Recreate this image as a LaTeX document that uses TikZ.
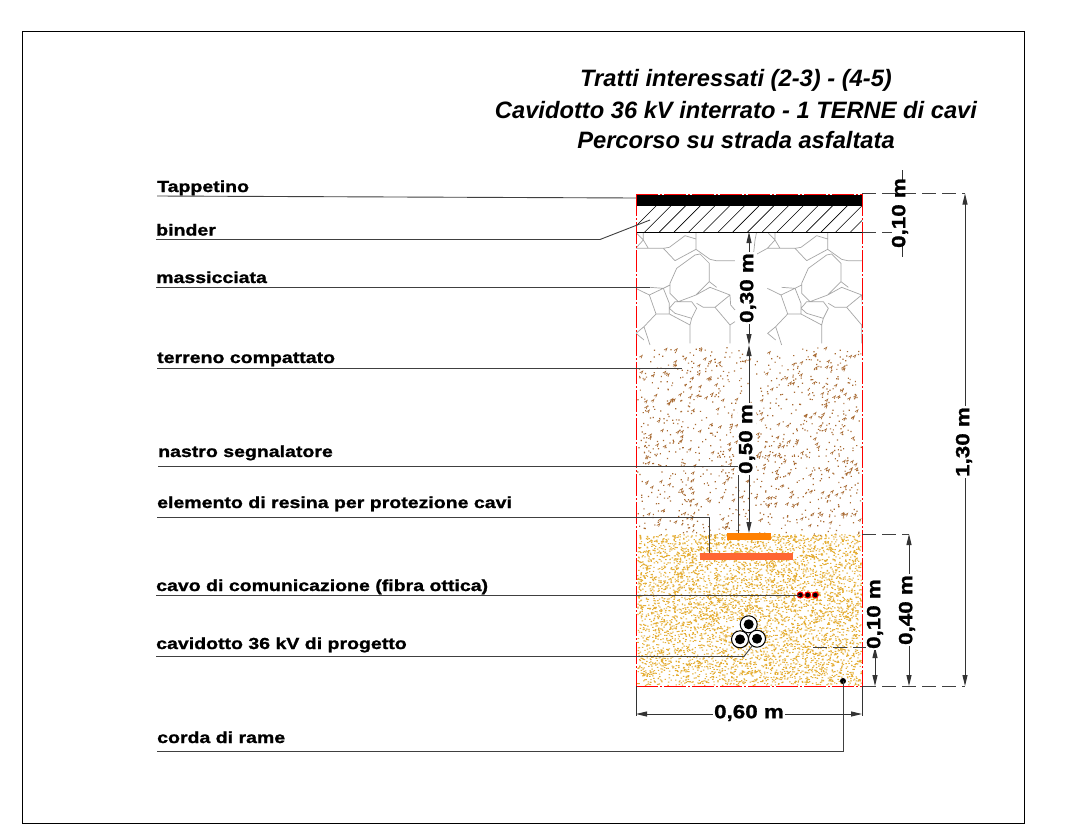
\documentclass[tikz,border=0pt]{standalone}
\usepackage{fontspec}
\setmainfont{Liberation Sans}
\newfontfamily\widelbl[FakeStretch=1.22,BoldFeatures={FakeStretch=1.22,FakeBold=1.2}]{Liberation Sans}
\newfontfamily\widedim[FakeStretch=1.18,BoldFeatures={FakeStretch=1.18,FakeBold=1.2}]{Liberation Sans}
\usetikzlibrary{arrows.meta,calc}
\definecolor{soilbrown}{HTML}{A86A32}
\definecolor{sandgold}{HTML}{E5AE35}
\definecolor{plateorange}{HTML}{FF8000}
\definecolor{platered}{HTML}{FF6633}
\newcommand{\stonepath}{
 (150,340)--(170,295)--(225,255)--(240,252)--(268,280)--(268,335)--(228,375)--(175,395)--(150,370)--cycle
 (47,235)--(130,235)--(165,272)
 (130,235)--(148,232)--(195,197)--(228,207)--(228,238)--(165,272)
 (228,185)--(228,207)
 (228,238)--(270,268)--(288,272)--(345,272)
 (268,335)--(290,352)
 (90,352)--(130,355)--(150,345)
 (130,355)--(88,375)--(108,432)--(148,432)--(148,400)--(130,355)
 (47,355)--(88,375)
 (108,432)--(72,470)--(48,490)--(72,510)
 (72,470)--(90,525)
 (108,432)--(148,432)--(210,465)--(210,520)
 (148,415)--(165,395)--(215,395)--(230,415)--(215,445)--(165,430)--cycle
 (228,375)--(270,352)--(330,375)
 (230,400)--(250,412)--(285,412)--(330,375)
 (285,412)--(330,465)--(345,455)
 (330,465)--(330,520)
 (215,445)--(210,465)
 (50,190)--(70,210)--(47,235)
 (70,185)--(70,210)--(85,235)
 (5,258)--(47,235)
 (15,185)--(10,210)--(5,258)
 (330,375)--(332,405)--(345,420)
}
\tikzset{
 lbl/.style={font=\widelbl\fontsize{16}{18}\selectfont\bfseries, inner sep=0pt, anchor=base west},
 lead/.style={line width=0.9pt, draw=black!75},
 dimtxt/.style={font=\widedim\fontsize{19}{21}\selectfont\bfseries, rotate=90, inner sep=1pt},
 dimw/.style={dimtxt, fill=white},
 dimline/.style={line width=0.9pt, draw=black!80},
 tips/.style={{Triangle[length=11pt,width=5pt]}-{Triangle[length=11pt,width=5pt]}},
 extd/.style={line width=0.8pt, draw=black!75, dash pattern=on 14pt off 6pt},
 redl/.style={line width=0.9pt, draw=red, dash pattern=on 22pt off 2pt on 2pt off 2pt},
 ttl/.style={font=\fontsize{23.7}{26}\selectfont\bfseries\itshape, inner sep=0pt},
 stoneline/.style={line width=0.7pt, draw=black!35},
 plate/.style={inner sep=0pt, minimum height=7pt},
 pipeo/.style={circle, draw=black, line width=1pt, fill=white, minimum size=17pt, inner sep=0pt},
 pipei/.style={circle, fill=black, minimum size=10pt, inner sep=0pt},
 fibre/.style={circle, draw=red, line width=1pt, fill=black, minimum size=6pt, inner sep=0pt},
}
\begin{document}
\begin{tikzpicture}[x=1pt,y=-1pt]
\useasboundingbox (0,0) rectangle (1073,825);
\fill[white] (0,0) rectangle (1073,825);
\draw[line width=0.8pt] (22,31) rectangle (1024,823);
% title
\node[ttl] (t1) at (736,80) {Tratti interessati (2-3) - (4-5)};
\node[ttl] (t2) at (736,110) {Cavidotto 36 kV interrato - 1 TERNE di cavi};
\node[ttl] (t3) at (736,140) {Percorso su strada asfaltata};
% stipple
\pgfmathsetseed{4217}
\fill[soilbrown] \foreach \i in {1,...,900} { ({637+224*rnd},{347+188*rnd}) rectangle ++(1.2,1.2) };
\draw[soilbrown, line width=0.6pt] \foreach \i in {1,...,220} { ({638+220*rnd},{349+182*rnd}) -- ++(3,-1.8) -- ++(-1.2,3) };
\fill[sandgold] \foreach \i in {1,...,5400} { ({637+224*rnd},{534+151*rnd}) rectangle ++(1.4,1) };
% stones
\begin{scope}
\clip (636,232) rectangle (862,346);
\begin{scope}[shift={(620,170)},x=0.3333pt,y=-0.3333pt]
\draw[stoneline] \stonepath;
\end{scope}
\begin{scope}[shift={(751.67,170)},x=0.3333pt,y=-0.3333pt]
\draw[stoneline] \stonepath;
\end{scope}
\end{scope}
% layers
\fill[black] (636,195) rectangle (862,205.5);
\begin{scope}
\clip (636,205.5) rectangle (862,232);
\draw[line width=0.6pt] \foreach \k in {0,...,17} { ({630+14.7*\k},232) -- ++(27,-27) };
\end{scope}
\draw[line width=0.9pt] (636,232) -- (862,232);
% red borders
\draw[redl] (636,194) -- (636,686);
\draw[redl] (862,194) -- (862,686);
\draw[redl] (636,194) -- (862,194);
\draw[redl] (636,686) -- (862,686);
% elements
\node[plate, fill=plateorange, minimum width=44pt] (plateA) at (749,536.5) {};
\node[plate, fill=platered, minimum width=93pt] (plateB) at (746.5,556) {};
\node[fibre] (f1) at (800.3,595) {};
\node[fibre] (f2) at (807.7,595) {};
\node[fibre] (f3) at (815.3,595) {};
\foreach \n/\px/\py in {pa/748.7/624.3, pb/740/639.3, pc/757/638.7} {
 \node[pipeo] (\n) at (\px,\py) {};
 \node[pipei] at (\px,\py) {};
}
\node[circle, fill=black, minimum size=6pt, inner sep=0pt] (rame) at (843,681) {};
% leader ends
\coordinate (eTap) at (636,198);
\coordinate (bBend) at (600,239.5);
\coordinate (eBin) at (650,220);
\coordinate (eMas) at (650,287);
\coordinate (eTer) at (682,368);
\coordinate (cNas) at (738,466);
\coordinate (eNas) at (738,533);
\coordinate (cEle) at (709.5,517);
\coordinate (eEle) at (709.5,552.5);
\coordinate (cCav) at (744,656.5);
\coordinate (eCav) at (752,646);
\coordinate (cRam) at (843,751);
% labels
\node[lbl] (l1) at (157,192) {Tappetino};
\node[lbl] (l2) at (156,235.5) {binder};
\node[lbl] (l3) at (156,283) {massicciata};
\node[lbl] (l4) at (157,363) {terreno compattato};
\node[lbl] (l5) at (158,457) {nastro segnalatore};
\node[lbl] (l6) at (157,508) {elemento di resina per protezione cavi};
\node[lbl] (l7) at (156,591) {cavo di comunicazione (fibra ottica)};
\node[lbl] (l8) at (156,649) {cavidotto 36 kV di progetto};
\node[lbl] (l9) at (157,743) {corda di rame};
% leaders
\draw[lead] ($(l1.base west)+(0,4)$) -- (eTap);
\draw[lead] ($(l2.base west)+(0,4)$) -- (bBend) -- (eBin);
\draw[lead] ($(l3.base west)+(0,4)$) -- (eMas);
\draw[lead] ($(l4.base west)+(0,5)$) -- (eTer);
\draw[lead] ($(l5.base west)+(0,9)$) -- (cNas) -- (eNas);
\draw[lead] ($(l6.base west)+(0,9)$) -- (cEle) -- (eEle);
\draw[lead] ($(l7.base west)+(0,4)$) -- (f1.center);
\draw[lead] ($(l8.base west)+(0,7.5)$) -- (cCav) -- (eCav);
\draw[lead] ($(l9.base west)+(0,8)$) -- (cRam) -- (rame.center);
% dimension points
\coordinate (a1) at (749,232); \coordinate (a2) at (749,345); \coordinate (a3) at (749,533);
\coordinate (r1) at (965,193.5); \coordinate (r2) at (965,686);
\coordinate (e1) at (862,193.5); \coordinate (e2) at (862,686);
\coordinate (d1) at (909,534); \coordinate (d2) at (909,686); \coordinate (e3) at (862,534);
\coordinate (s1) at (875,647); \coordinate (s2) at (875,686); \coordinate (e4) at (813,647); \coordinate (e5) at (870,647);
\coordinate (h1) at (636,714); \coordinate (h2) at (862,714);
\coordinate (b1) at (636,686); 
\coordinate (u1) at (902,170); \coordinate (u2) at (902,182); \coordinate (u3) at (902,238); \coordinate (u4) at (902,257);
\coordinate (e6) at (862,232); \coordinate (e7) at (892,232);
% extension lines
\draw[extd] (e1) -- (r1);
\draw[extd] (e2) -- (r2);
\draw[extd] (e3) -- (d1);
\draw[extd] (e4) -- (e5);
\draw[extd] (e6) -- (e7);
\draw[dimline] (b1) -- (636,716);
\draw[dimline] (e2) -- (862,716);
\draw[dimline] (u1) -- (u2);
\draw[dimline] (u3) -- (u4);
% dimension lines
\draw[dimline,tips] (r1) -- (r2);
\draw[dimline,tips] (d1) -- (d2);
\draw[dimline,tips] (s1) -- (s2);
\draw[dimline,tips] (h1) -- (h2);
\draw[dimline,tips] (a1) -- (a2);
\draw[dimline,tips] (a2) -- (a3);
% dimension text
\node[dimw] (q1) at (964,442) {1,30 m};
\node[dimw] (q2) at (907,610) {0,40 m};
\node[dimw] (q3) at (875,614) {0,10 m};
\node[dimw] (q4) at (748,288) {0,30 m};
\node[dimw] (q5) at (747,439) {0,50 m};
\node[dimw,rotate=-90] (q6) at (749,713) {0,60 m};
\node[dimtxt] (q7) at (900,213) {0,10 m};
\end{tikzpicture}
\end{document}
